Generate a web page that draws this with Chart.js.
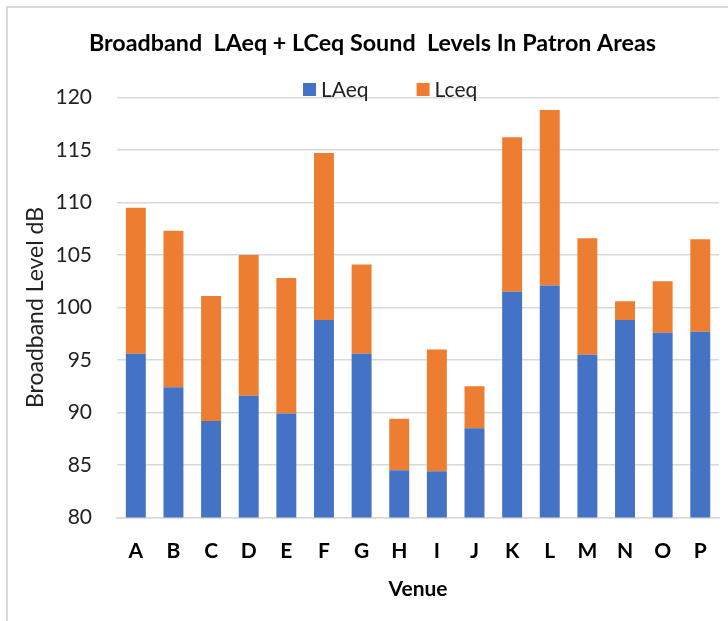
<!DOCTYPE html>
<html>
<head>
<meta charset="utf-8">
<script src="https://cdn.jsdelivr.net/npm/chart.js@4"></script>
<style>
  html, body { margin: 0; padding: 0; background: #fff; }
  #wrap { width: 728px; height: 621px; position: relative; }
</style>
</head>
<body>
<div id="wrap"><canvas id="c" width="728" height="621"></canvas></div>
<script>
const venues = ['A','B','C','D','E','F','G','H','I','J','K','L','M','N','O','P'];
const laeq = [95.6, 92.4, 89.2, 91.6, 89.9, 98.8, 95.6, 84.5, 84.4, 88.5, 101.5, 102.1, 95.5, 98.8, 97.6, 97.7];
// orange segment stacked above LAeq (top of bar = LCeq)
const lceq = [13.9, 14.9, 11.9, 13.4, 12.9, 15.9, 8.5, 4.9, 11.6, 4.0, 14.7, 16.7, 11.1, 1.8, 4.9, 8.8];
const seriesNames = ['LAeq', 'Lceq'];
const yTicks = [80, 85, 90, 95, 100, 105, 110, 115, 120];

const FONT = 'Lato, "Noto Sans", sans-serif';

const frame = {
  id: 'frame',
  beforeDraw(chart) {
    const ctx = chart.ctx;
    ctx.save();
    ctx.fillStyle = '#fff';
    ctx.fillRect(0, 0, chart.width, chart.height);
    ctx.strokeStyle = '#d9d9d9';
    ctx.lineWidth = 2;
    ctx.strokeRect(7, 7, 900, 900);
    ctx.restore();
  }
};

const customLegend = {
  id: 'customLegend',
  afterDraw(chart) {
    const ctx = chart.ctx;
    ctx.save();
    ctx.font = '21px ' + FONT;
    ctx.textBaseline = 'middle';
    let x = 303;
    const cy = 89.5;
    chart.data.datasets.forEach(ds => {
      ctx.fillStyle = ds.backgroundColor;
      ctx.fillRect(x, cy - 6.5, 13, 13);
      ctx.fillStyle = '#222';
      ctx.fillText(ds.label, x + 18, cy + 1);
      x += 18 + ctx.measureText(ds.label).width + 48;
    });
    ctx.restore();
  }
};

new Chart(document.getElementById('c'), {
  type: 'bar',
  data: {
    labels: venues,
    datasets: [
      { label: seriesNames[0], data: laeq, backgroundColor: '#4472C4', borderWidth: 0 },
      { label: seriesNames[1], data: lceq, backgroundColor: '#ED7D31', borderWidth: 0 }
    ]
  },
  options: {
    responsive: false,
    animation: false,
    devicePixelRatio: 1,
    layout: { padding: { left: 24, right: 7, top: 0, bottom: 0 } },
    plugins: {
      legend: { display: false },
      tooltip: { enabled: false },
      title: {
        display: true,
        text: 'Broadband  LAeq + LCeq Sound  Levels In Patron Areas',
        color: '#000',
        font: { family: FONT, size: 23.3, weight: 'bold', lineHeight: 1.2 },
        padding: { top: 29.0, bottom: 40.5 }
      }
    },
    datasets: { bar: { categoryPercentage: 1, barPercentage: 0.53 } },
    scales: {
      x: {
        stacked: true,
        grid: { display: false, drawTicks: false },
        border: { display: true, color: '#d9d9d9', width: 1.5 },
        ticks: { color: '#000', font: { family: FONT, size: 21, weight: 'bold' }, padding: 21 },
        title: {
          display: true, text: 'Venue', color: '#000',
          font: { family: FONT, size: 21, weight: 'bold', lineHeight: 1.2 },
          padding: { top: 0, bottom: 19.4 }
        },
        afterFit(scale) { scale.height = 103.5; }
      },
      y: {
        stacked: true,
        min: 80, max: 120,
        afterBuildTicks(scale) { scale.ticks = yTicks.map(v => ({ value: v })); },
        grid: { color: '#d9d9d9', lineWidth: 1.5, drawTicks: false },
        border: { display: false },
        ticks: { color: '#222', font: { family: FONT, size: 21 }, padding: 25 },
        title: {
          display: true, text: 'Broadband Level dB', color: '#222',
          font: { family: FONT, size: 23, lineHeight: 1.0 },
          padding: { top: 0, bottom: 0 }
        },
        afterFit(scale) { scale.width = 93; }
      }
    }
  },
  plugins: [frame, customLegend]
});
</script>
</body>
</html>
